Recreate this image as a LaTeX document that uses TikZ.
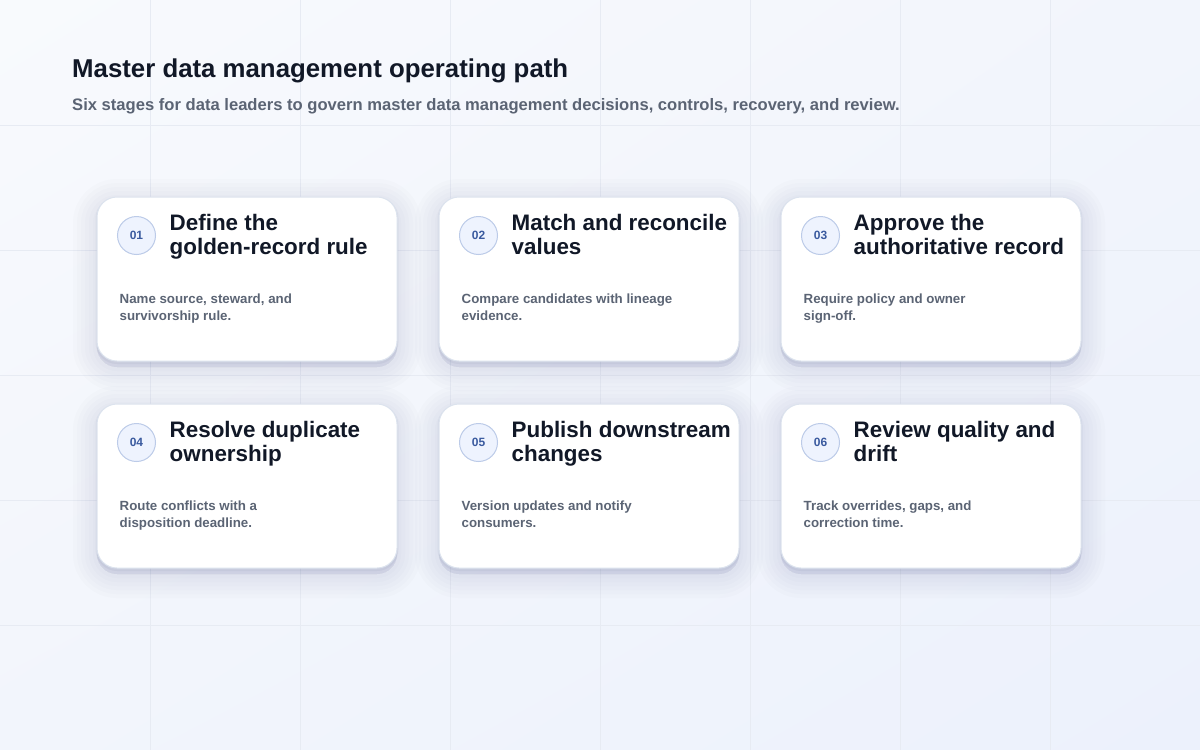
\documentclass[tikz,border=0pt]{standalone}
\usepackage{fontspec}
\setmainfont{Liberation Sans}
\usetikzlibrary{positioning,shadings}

\definecolor{ink}{HTML}{111827}
\definecolor{muted}{HTML}{5B6474}
\definecolor{bgtop}{HTML}{F8FAFD}
\definecolor{bgmid}{HTML}{F2F5FC}
\definecolor{bgbot}{HTML}{ECF1FC}
\definecolor{gridc}{HTML}{E7EBF3}
\definecolor{cardline}{HTML}{DCE3EE}
\definecolor{shadowc}{HTML}{42507A}
\definecolor{badgefill}{HTML}{EEF3FE}
\definecolor{badgeline}{HTML}{BCCBE8}
\definecolor{badgeink}{HTML}{3A5A9F}

\tikzset{
  x=1pt, y=-1pt,
  soft/.style={preaction={draw=shadowc, fill=shadowc, line width=#1, opacity=0.015,
      transform canvas={yshift=-6pt}}},
  tight/.style={preaction={draw=shadowc, line width=3pt, opacity=0.06,
      transform canvas={yshift=-1.5pt}}},
  card/.style={rectangle, rounded corners=20pt, minimum width=300pt, minimum height=164pt,
      fill=white, draw=cardline, line width=1pt,
      soft=8pt, soft=16pt, soft=24pt, soft=32pt, soft=40pt, soft=48pt, tight},
  badge/.style={circle, minimum size=38pt, inner sep=0pt, fill=badgefill, draw=badgeline,
      line width=1pt, text=badgeink, font=\bfseries\fontsize{12}{14}\selectfont},
  steptitle/.style={inner sep=0pt, align=left, text=ink, font=\bfseries\fontsize{22.4}{24}\selectfont},
  steptext/.style={inner sep=0pt, align=left, text=muted, font=\bfseries\fontsize{13.3}{17}\selectfont},
  heading/.style={inner sep=0pt, text=ink, font=\bfseries\fontsize{25.8}{30}\selectfont},
  subhead/.style={inner sep=0pt, text=muted, font=\bfseries\fontsize{16.6}{20}\selectfont},
  gridline/.style={draw=gridc, line width=1pt},
}

\begin{document}
\begin{tikzpicture}

\useasboundingbox (0,0) rectangle (1200,750);
\shade[upper left=bgtop, upper right=bgmid, lower left=bgmid, lower right=bgbot] (0,0) rectangle (1200,750);
\draw[gridline] (150,0) -- (150,750) (300,0) -- (300,750) (450,0) -- (450,750) (600,0) -- (600,750)
  (750,0) -- (750,750) (900,0) -- (900,750) (1050,0) -- (1050,750);
\draw[gridline] (0,125) -- (1200,125) (0,250) -- (1200,250) (0,375) -- (1200,375)
  (0,500) -- (1200,500) (0,625) -- (1200,625);

% Header
\node[heading, anchor=base west] (head) at (72,77) {Master data management operating path};
\node[subhead, anchor=base west] (sub) at (72,110) {Six stages for data leaders to govern master data management decisions, controls, recovery, and review.};

% Define cards
\node[card] (c1) at (247,279) {};
\node[card, right=41pt of c1] (c2) {};
\node[card, right=41pt of c2] (c3) {};
\node[card, below=42pt of c1] (c4) {};
\node[card, right=41pt of c4] (c5) {};
\node[card, right=41pt of c5] (c6) {};

% Badges
\node[badge] (b1) at ([xshift=40pt,yshift=-39pt]c1.north west) {01};
\node[badge] (b2) at ([xshift=40pt,yshift=-39pt]c2.north west) {02};
\node[badge] (b3) at ([xshift=40pt,yshift=-39pt]c3.north west) {03};
\node[badge] (b4) at ([xshift=40pt,yshift=-39pt]c4.north west) {04};
\node[badge] (b5) at ([xshift=40pt,yshift=-39pt]c5.north west) {05};
\node[badge] (b6) at ([xshift=40pt,yshift=-39pt]c6.north west) {06};

% Titles
\node[steptitle, below right=18pt and 73pt of c1.north west] (t1) {Define the\\golden-record rule};
\node[steptitle, below right=18pt and 73pt of c2.north west] (t2) {Match and reconcile\\values};
\node[steptitle, below right=18pt and 73pt of c3.north west] (t3) {Approve the\\authoritative record};
\node[steptitle, below right=18pt and 73pt of c4.north west] (t4) {Resolve duplicate\\ownership};
\node[steptitle, below right=18pt and 73pt of c5.north west] (t5) {Publish downstream\\changes};
\node[steptitle, below right=18pt and 73pt of c6.north west] (t6) {Review quality and\\drift};

% Descriptions
\node[steptext, below right=97pt and 23pt of c1.north west] (d1) {Name source, steward, and\\survivorship rule.};
\node[steptext, below right=97pt and 23pt of c2.north west] (d2) {Compare candidates with lineage\\evidence.};
\node[steptext, below right=97pt and 23pt of c3.north west] (d3) {Require policy and owner\\sign-off.};
\node[steptext, below right=97pt and 23pt of c4.north west] (d4) {Route conflicts with a\\disposition deadline.};
\node[steptext, below right=97pt and 23pt of c5.north west] (d5) {Version updates and notify\\consumers.};
\node[steptext, below right=97pt and 23pt of c6.north west] (d6) {Track overrides, gaps, and\\correction time.};

\end{tikzpicture}
\end{document}
